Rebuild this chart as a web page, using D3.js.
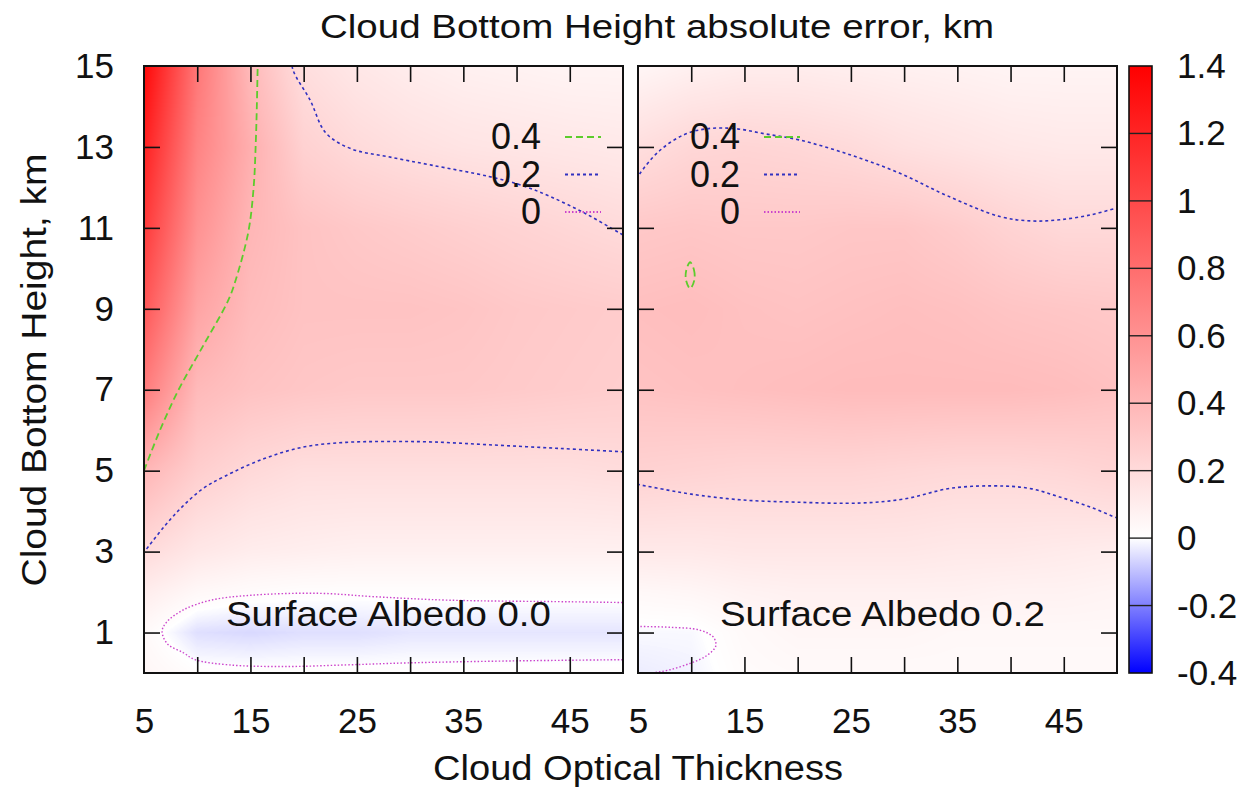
<!DOCTYPE html>
<html>
<head>
<meta charset="utf-8">
<script src="https://cdn.jsdelivr.net/npm/d3@7"></script>
<style>
  body { margin: 0; background: #fff; }
  svg text { font-family: "Liberation Sans", Arial, sans-serif; fill: #111; }
</style>
</head>
<body>
<svg id="chart" width="1248" height="795"></svg>
<script>
// ---- data ----
var xGrid = [5, 10, 15, 20, 25, 30, 35, 40, 45, 50];
var yGrid = [0, 1, 2, 3, 5, 7, 9, 11, 13, 15];

// absolute error (km), rows follow yGrid, columns follow xGrid
var errAlbedo00 = [
  [ 0.05,  0.01,  0.01,  0.01,  0.01,  0.01,  0.01,  0.01,  0.01,  0.01],
  [ 0.03, -0.05, -0.06, -0.05, -0.05, -0.04, -0.04, -0.04, -0.04, -0.04],
  [ 0.10,  0.04,  0.02,  0.01,  0.01,  0.01,  0.01,  0.01,  0.01,  0.01],
  [ 0.20,  0.13,  0.10,  0.09,  0.08,  0.08,  0.08,  0.08,  0.08,  0.08],
  [ 0.40,  0.27,  0.21,  0.18,  0.18,  0.18,  0.18,  0.18,  0.18,  0.19],
  [ 0.72,  0.38,  0.33,  0.31,  0.30,  0.30,  0.30,  0.29,  0.28,  0.27],
  [ 0.92,  0.50,  0.37,  0.33,  0.33,  0.33,  0.32,  0.30,  0.29,  0.28],
  [ 1.08,  0.60,  0.40,  0.33,  0.30,  0.28,  0.26,  0.24,  0.22,  0.20],
  [ 1.22,  0.68,  0.44,  0.25,  0.20,  0.17,  0.15,  0.14,  0.13,  0.12],
  [ 1.36,  0.75,  0.38,  0.18,  0.13,  0.10,  0.08,  0.07,  0.06,  0.06]
];
var errAlbedo02 = [
  [-0.03, -0.02,  0.02,  0.03,  0.03,  0.03,  0.03,  0.03,  0.03,  0.03],
  [-0.01, -0.01,  0.03,  0.05,  0.05,  0.05,  0.04,  0.04,  0.04,  0.04],
  [ 0.04,  0.05,  0.07,  0.08,  0.08,  0.08,  0.08,  0.07,  0.07,  0.06],
  [ 0.12,  0.12,  0.13,  0.13,  0.13,  0.13,  0.12,  0.12,  0.11,  0.10],
  [ 0.25,  0.24,  0.23,  0.23,  0.23,  0.22,  0.21,  0.21,  0.22,  0.24],
  [ 0.33,  0.34,  0.35,  0.36,  0.37,  0.37,  0.37,  0.37,  0.36,  0.34],
  [ 0.35,  0.36,  0.34,  0.33,  0.34,  0.35,  0.34,  0.32,  0.31,  0.30],
  [ 0.30,  0.31,  0.30,  0.30,  0.31,  0.31,  0.28,  0.24,  0.21,  0.21],
  [ 0.18,  0.22,  0.23,  0.22,  0.20,  0.17,  0.15,  0.13,  0.12,  0.12],
  [ 0.05,  0.08,  0.10,  0.10,  0.09,  0.08,  0.07,  0.06,  0.06,  0.06]
];

// contour lines, [optical thickness, height]
var c04Albedo00 = [[5, 5], [6.5, 6], [8.25, 7], [10.5, 8.06], [12.9, 9.2], [13.6, 9.7],
  [14.8, 10.9], [15.3, 12], [15.5, 13.1], [15.6, 14], [15.7, 15.3]];
var c02TopAlbedo00 = [[18.8, 15.3], [19.0, 14.9], [20.6, 14.16], [22.1, 13.34], [24.5, 12.95],
  [27.9, 12.76], [32, 12.55], [37.4, 12.27], [40.5, 12.05], [43.2, 11.77], [46.5, 11.35],
  [49.7, 10.87], [50.6, 10.74]];
var c02LowAlbedo00 = [[4.9, 2.95], [5.4, 3.12], [7, 3.65], [8.6, 4.11], [10.5, 4.55],
  [12.5, 4.85], [16.3, 5.3], [20.1, 5.59], [24, 5.7], [27.8, 5.72], [32, 5.71],
  [37.4, 5.64], [44, 5.55], [49.8, 5.47], [50.6, 5.46]];
var c0Albedo00 = [[50.6, 1.74], [45, 1.76], [33.6, 1.8], [27, 1.88], [21.3, 1.97], [15, 1.92],
  [11.3, 1.8], [8.7, 1.56], [7.1, 1.25], [6.7, 1.03], [7.2, 0.72], [8.7, 0.5], [9.8, 0.33],
  [13, 0.2], [18.2, 0.16], [24, 0.2], [29.8, 0.25], [40, 0.3], [50.6, 0.33]];

var c04Albedo02 = [[9.9, 10.15], [10.25, 9.97], [10.3, 9.72], [9.9, 9.5], [9.5, 9.72], [9.55, 9.97]];
var c02TopAlbedo02 = [[4.9, 12.2], [5.2, 12.35], [7, 12.9], [9.3, 13.3], [11.5, 13.45],
  [14.2, 13.45], [17, 13.32], [20.2, 13.17], [25, 12.8], [29.6, 12.35], [34, 11.8],
  [39, 11.28], [42, 11.17], [44.6, 11.2], [47.5, 11.32], [50, 11.49], [50.6, 11.52]];
var c02LowAlbedo02 = [[4.9, 4.67], [5.2, 4.65], [7.8, 4.52], [10, 4.42], [14.6, 4.28],
  [20, 4.22], [25.9, 4.2], [30, 4.3], [34.5, 4.57], [39.4, 4.62], [42, 4.55], [44.6, 4.35],
  [47.5, 4.1], [50, 3.83], [50.6, 3.78]];
var c0Albedo02 = [[4.9, 1.15], [8, 1.13], [10.8, 1.06], [12.1, 0.88], [12.3, 0.66],
  [11.4, 0.42], [9.9, 0.24], [8, 0.08], [6.5, 0.01], [4.9, -0.03]];

var xTickMarks = [10, 15, 20, 25, 30, 35, 40, 45];
var xTickLabels = [5, 15, 25, 35, 45];
var yTickMarks = [1, 3, 5, 7, 9, 11, 13];
var yTickLabels = [1, 3, 5, 7, 9, 11, 13, 15];
var cbTickMarks = [-0.2, 0, 0.2, 0.4, 0.6, 0.8, 1, 1.2];
var cbTickLabels = ["-0.4", "-0.2", "0", "0.2", "0.4", "0.6", "0.8", "1", "1.2", "1.4"];
var legendLevels = ["0.4", "0.2", "0"];
var panelNames = ["Surface Albedo 0.0", "Surface Albedo 0.2"];

// ---- layout ----
var svg = d3.select("#chart");
var plotTop = 66, plotBottom = 673;
var y = d3.scaleLinear().domain([0, 15]).range([plotBottom, plotTop]);
var cb = d3.scaleLinear().domain([-0.4, 1.4]).range([plotBottom, plotTop]);
var color = d3.scaleLinear().domain([-0.4, 0, 1.4])
  .range(["#0000ff", "#ffffff", "#ff0000"]).clamp(true);

var levelStyle = {
  "0.4": {stroke: "#5ccc2c", dash: "7,4", width: 1.8},
  "0.2": {stroke: "#3030c0", dash: "3,3", width: 1.6},
  "0":   {stroke: "#cc44cc", dash: "1.5,2", width: 1.4}
};

// lookup table for the colour map
var lut = d3.range(0, 1001).map(function(i) {
  return d3.rgb(color(-0.4 + 1.8 * i / 1000));
});

function sample(grid, xv, yv) {
  var i = Math.max(0, Math.min(xGrid.length - 2, d3.bisectRight(xGrid, xv) - 1));
  var j = Math.max(0, Math.min(yGrid.length - 2, d3.bisectRight(yGrid, yv) - 1));
  var tx = Math.max(0, Math.min(1, (xv - xGrid[i]) / (xGrid[i + 1] - xGrid[i])));
  var ty = Math.max(0, Math.min(1, (yv - yGrid[j]) / (yGrid[j + 1] - yGrid[j])));
  var a = grid[j][i] * (1 - tx) + grid[j][i + 1] * tx;
  var b = grid[j + 1][i] * (1 - tx) + grid[j + 1][i + 1] * tx;
  return a * (1 - ty) + b * ty;
}

function drawPanel(idx, x0, grid, contours, legendX) {
  var x = d3.scaleLinear().domain([5, 50]).range([x0, x0 + 479]);
  var w = 479;
  var h = plotBottom - plotTop;
  var g = svg.append("g");

  // heat map
  var canvas = document.createElement("canvas");
  canvas.width = w; canvas.height = h;
  var ctx = canvas.getContext("2d");
  var img = ctx.createImageData(w, h);
  for (var py = 0; py < h; py++) {
    var yv = y.invert(plotTop + py + 0.5);
    for (var px = 0; px < w; px++) {
      var v = sample(grid, x.invert(x0 + px + 0.5), yv);
      var k = Math.max(0, Math.min(1000, Math.round((v + 0.4) / 1.8 * 1000)));
      var c = lut[k], o = (py * w + px) * 4;
      img.data[o] = c.r; img.data[o + 1] = c.g; img.data[o + 2] = c.b; img.data[o + 3] = 255;
    }
  }
  ctx.putImageData(img, 0, 0);
  g.append("image").attr("x", x0).attr("y", plotTop).attr("width", w).attr("height", h)
    .attr("preserveAspectRatio", "none")
    .attr("href", canvas.toDataURL());

  // contours
  svg.append("clipPath").attr("id", "clip" + idx).append("rect")
    .attr("x", x0).attr("y", plotTop).attr("width", w).attr("height", h);
  var line = d3.line().x(function(d) { return x(d[0]); }).y(function(d) { return y(d[1]); })
    .curve(d3.curveCatmullRom.alpha(0.5));
  var closedLine = d3.line().x(function(d) { return x(d[0]); }).y(function(d) { return y(d[1]); })
    .curve(d3.curveCatmullRomClosed.alpha(0.5));
  var cg = g.append("g").attr("clip-path", "url(#clip" + idx + ")");
  contours.forEach(function(c) {
    var s = levelStyle[c.level];
    cg.append("path").attr("d", (c.closed ? closedLine : line)(c.points))
      .attr("fill", "none").attr("stroke", s.stroke).attr("stroke-width", s.width)
      .attr("stroke-dasharray", s.dash);
  });

  // panel label
  g.append("text").attr("x", x(12.7)).attr("y", y(1.15))
    .attr("font-size", 35).attr("textLength", 325).attr("lengthAdjust", "spacingAndGlyphs")
    .text(panelNames[idx]);

  // legend
  legendLevels.forEach(function(lv, i) {
    var ly = 137 + i * 37.5;
    var s = levelStyle[lv];
    g.append("text").attr("x", legendX).attr("y", ly + 12).attr("text-anchor", "end")
      .attr("font-size", 36).text(lv);
    g.append("line").attr("x1", legendX + 24).attr("x2", legendX + 60)
      .attr("y1", ly).attr("y2", ly)
      .attr("stroke", s.stroke).attr("stroke-width", s.width + 0.4).attr("stroke-dasharray", s.dash);
  });

  // ticks on all four sides, inside
  var tk = 16;
  g.append("g").attr("transform", "translate(0," + plotBottom + ")")
    .call(d3.axisBottom(x).tickValues(xTickMarks).tickSize(-tk).tickFormat(""));
  g.append("g").attr("transform", "translate(0," + plotTop + ")")
    .call(d3.axisTop(x).tickValues(xTickMarks).tickSize(-tk).tickFormat(""));
  g.append("g").attr("transform", "translate(" + x0 + ",0)")
    .call(d3.axisLeft(y).tickValues(yTickMarks).tickSize(-tk).tickFormat(""));
  g.append("g").attr("transform", "translate(" + (x0 + w) + ",0)")
    .call(d3.axisRight(y).tickValues(yTickMarks).tickSize(-tk).tickFormat(""));
  g.selectAll(".domain").remove();
  g.selectAll(".tick line").attr("stroke", "#111").attr("stroke-width", 1.6);

  // x labels
  var xl = g.append("g").attr("transform", "translate(0," + plotBottom + ")")
    .call(d3.axisBottom(x).tickValues(xTickLabels).tickSize(0).tickPadding(35).tickFormat(d3.format("d")));
  xl.select(".domain").remove();
  xl.selectAll("text").attr("font-size", 35).attr("font-family", null).attr("fill", "#111");

  // y labels only on the first panel
  if (idx === 0) {
    var yl = g.append("g").attr("transform", "translate(" + x0 + ",0)")
      .call(d3.axisLeft(y).tickValues(yTickLabels).tickSize(0).tickPadding(30).tickFormat(d3.format("d")));
    yl.select(".domain").remove();
    yl.selectAll("text").attr("font-size", 35).attr("font-family", null).attr("fill", "#111");
  }

  g.append("rect").attr("x", x0).attr("y", plotTop).attr("width", w).attr("height", h)
    .attr("fill", "none").attr("stroke", "#111").attr("stroke-width", 2);
}

drawPanel(0, 144, errAlbedo00, [
  {level: "0.4", points: c04Albedo00},
  {level: "0.2", points: c02TopAlbedo00},
  {level: "0.2", points: c02LowAlbedo00},
  {level: "0", points: c0Albedo00}
], 541);

drawPanel(1, 638, errAlbedo02, [
  {level: "0.4", points: c04Albedo02, closed: true},
  {level: "0.2", points: c02TopAlbedo02},
  {level: "0.2", points: c02LowAlbedo02},
  {level: "0", points: c0Albedo02}
], 740);

// ---- colour bar ----
var cbx = 1129, cbw = 23;
var defs = svg.append("defs");
var grad = defs.append("linearGradient").attr("id", "cbGrad")
  .attr("x1", 0).attr("y1", 1).attr("x2", 0).attr("y2", 0);
[-0.4, 0, 1.4].forEach(function(v) {
  grad.append("stop").attr("offset", (v + 0.4) / 1.8).attr("stop-color", color(v));
});
svg.append("rect").attr("x", cbx).attr("y", plotTop).attr("width", cbw).attr("height", plotBottom - plotTop)
  .attr("fill", "url(#cbGrad)");
svg.append("g").selectAll("line").data(cbTickMarks).join("line")
  .attr("x1", cbx).attr("x2", cbx + cbw)
  .attr("y1", function(d) { return cb(d); }).attr("y2", function(d) { return cb(d); })
  .attr("stroke", "#222").attr("stroke-width", 1.4);
svg.append("rect").attr("x", cbx).attr("y", plotTop).attr("width", cbw).attr("height", plotBottom - plotTop)
  .attr("fill", "none").attr("stroke", "#111").attr("stroke-width", 1.6);
svg.append("g").selectAll("text").data(cbTickLabels).join("text")
  .attr("x", 1177).attr("y", function(d) { return cb(+d) + 12; })
  .attr("font-size", 35).text(function(d) { return d; });

// ---- titles ----
svg.append("text").attr("x", 657).attr("y", 38).attr("text-anchor", "middle")
  .attr("font-size", 33).attr("textLength", 674).attr("lengthAdjust", "spacingAndGlyphs")
  .text("Cloud Bottom Height absolute error, km");
svg.append("text").attr("x", 638).attr("y", 780).attr("text-anchor", "middle")
  .attr("font-size", 35).attr("textLength", 410).attr("lengthAdjust", "spacingAndGlyphs")
  .text("Cloud Optical Thickness");
svg.append("text").attr("transform", "translate(46,370) rotate(-90)").attr("text-anchor", "middle")
  .attr("font-size", 35).attr("textLength", 433).attr("lengthAdjust", "spacingAndGlyphs")
  .text("Cloud Bottom Height, km");
</script>
</body>
</html>
